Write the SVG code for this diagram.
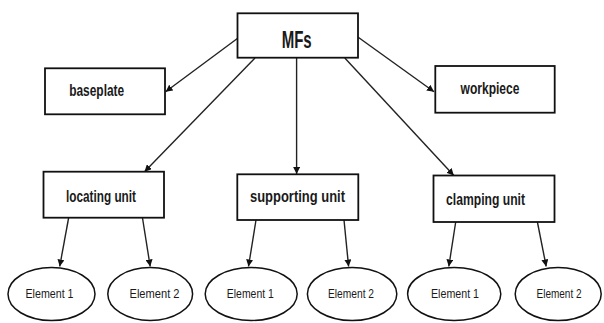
<svg xmlns="http://www.w3.org/2000/svg" width="604" height="323" viewBox="0 0 604 323">
<defs>
<marker id="ah" viewBox="0 0 10 10" refX="10" refY="5" markerWidth="7" markerHeight="7" markerUnits="userSpaceOnUse" orient="auto">
<path d="M0,0 L10,5 L0,10 z" fill="#111"/>
</marker>
<style>
.box{fill:#fff;stroke:#111;stroke-width:1.8}
.ell{fill:#fff;stroke:#111;stroke-width:1.5}
.t{font-family:"Liberation Sans",Arial,sans-serif;font-weight:bold;font-size:16.5px;fill:#1a1a1a;text-anchor:middle}
.big{font-size:24px}
.e{font-family:"Liberation Sans",Arial,sans-serif;font-size:12.5px;fill:#1a1a1a;text-anchor:middle}
.c{stroke:#222;stroke-width:1.4;fill:none;marker-end:url(#ah)}
</style>
</defs>
<rect width="604" height="323" fill="#fff"/>
<g id="connectors">
<line class="c" x1="237.7" y1="38.3" x2="165.6" y2="91.7"/>
<line class="c" x1="358.2" y1="37.3" x2="434" y2="91.7"/>
<line class="c" x1="255" y1="58" x2="144.5" y2="171.7"/>
<line class="c" x1="296.6" y1="58" x2="296.6" y2="174"/>
<line class="c" x1="344.8" y1="58" x2="453.8" y2="175.5"/>
<line class="c" x1="68.6" y1="218" x2="59.7" y2="266.5"/>
<line class="c" x1="142.5" y1="218" x2="150.2" y2="266.5"/>
<line class="c" x1="256" y1="220" x2="248.5" y2="266.5"/>
<line class="c" x1="344" y1="220" x2="348.6" y2="266.5"/>
<line class="c" x1="455.7" y1="222" x2="448.8" y2="266.5"/>
<line class="c" x1="537.4" y1="222" x2="546.2" y2="266.5"/>
</g>
<g id="mfs"><rect class="box" x="237.5" y="13.3" width="120.5" height="44.4"/><text class="t big" x="296.7" y="48.3" textLength="30" lengthAdjust="spacingAndGlyphs">MFs</text></g>
<g id="baseplate"><rect class="box" x="45" y="68.3" width="120" height="46"/><text class="t" x="96.7" y="95.5" textLength="55" lengthAdjust="spacingAndGlyphs">baseplate</text></g>
<g id="workpiece"><rect class="box" x="435.3" y="66" width="119.4" height="46.7"/><text class="t" x="490" y="93.5" textLength="59" lengthAdjust="spacingAndGlyphs">workpiece</text></g>
<g id="locating"><rect class="box" x="43.5" y="171.7" width="120.5" height="46"/><text class="t" x="101" y="201.7" textLength="70" lengthAdjust="spacingAndGlyphs">locating unit</text></g>
<g id="supporting"><rect class="box" x="237.3" y="174.3" width="121" height="45.7"/><text class="t" x="297.5" y="201.7" textLength="95" lengthAdjust="spacingAndGlyphs">supporting unit</text></g>
<g id="clamping"><rect class="box" x="433.5" y="175.5" width="121" height="46.5"/><text class="t" x="485.5" y="204.7" textLength="79" lengthAdjust="spacingAndGlyphs">clamping unit</text></g>
<g id="loc-e1"><ellipse class="ell" cx="51.5" cy="294" rx="43.5" ry="26.5"/><text class="e" x="49.5" y="298.3" textLength="48" lengthAdjust="spacingAndGlyphs">Element 1</text></g>
<g id="loc-e2"><ellipse class="ell" cx="150.2" cy="294" rx="42.4" ry="26.5"/><text class="e" x="154.5" y="298.3" textLength="50" lengthAdjust="spacingAndGlyphs">Element 2</text></g>
<g id="sup-e1"><ellipse class="ell" cx="251.2" cy="294" rx="46" ry="26.5"/><text class="e" x="250.3" y="298.3" textLength="47" lengthAdjust="spacingAndGlyphs">Element 1</text></g>
<g id="sup-e2"><ellipse class="ell" cx="352.1" cy="294" rx="44.7" ry="26.5"/><text class="e" x="351" y="298.3" textLength="46" lengthAdjust="spacingAndGlyphs">Element 2</text></g>
<g id="cla-e1"><ellipse class="ell" cx="454.2" cy="294" rx="46.6" ry="26.5"/><text class="e" x="455" y="298.3" textLength="48" lengthAdjust="spacingAndGlyphs">Element 1</text></g>
<g id="cla-e2"><ellipse class="ell" cx="558.2" cy="294" rx="43" ry="26.5"/><text class="e" x="559" y="298.3" textLength="45" lengthAdjust="spacingAndGlyphs">Element 2</text></g>
</svg>
